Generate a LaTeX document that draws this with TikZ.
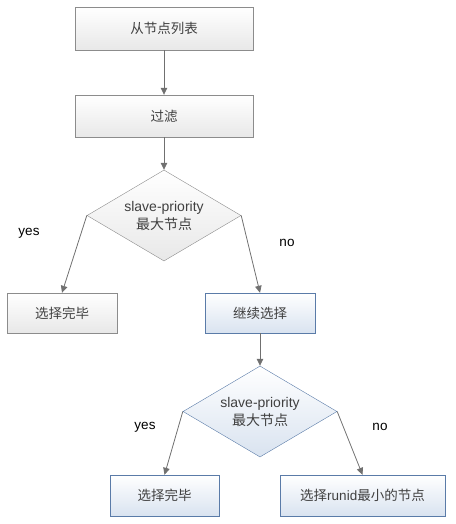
\documentclass[tikz,border=0pt]{standalone}
\usepackage{fontspec}
\setmainfont{Liberation Sans}
\newfontfamily\cjk{Noto Sans CJK SC}
\usetikzlibrary{shapes.geometric,arrows.meta,shadows}
\definecolor{boxline}{HTML}{8C8C8C}
\definecolor{blueline}{HTML}{5A7BA8}
\definecolor{bluefill}{HTML}{D9E3F0}
\definecolor{txt}{HTML}{404040}
\definecolor{arrowgray}{HTML}{707070}
\tikzset{
  graybox/.style={rectangle, draw=boxline, top color=white, bottom color=gray!18,
    text=txt, font=\fontsize{13.5}{16}\selectfont, inner sep=0pt,
    drop shadow={opacity=0.15, shadow xshift=1pt, shadow yshift=-1pt}},
  bluebox/.style={graybox, draw=blueline, bottom color=bluefill},
  graydiam/.style={diamond, draw=boxline, top color=white, bottom color=gray!18,
    text=txt, font=\fontsize{14}{18}\selectfont, align=center, inner sep=0pt,
    aspect=1.7, minimum width=154pt, minimum height=91pt},
  bluediam/.style={graydiam, draw=blueline, bottom color=bluefill},
  arr/.style={draw=arrowgray, line width=0.8pt, -{Triangle[length=7pt,width=6.5pt]}},
  lbl/.style={font=\fontsize{13.5}{16}\selectfont, text=black}
}
\begin{document}
\begin{tikzpicture}[x=1pt,y=-1pt]
    \useasboundingbox (0,0) rectangle (455,524);
    \node[graybox, minimum width=178pt, minimum height=43pt] (list) at (164,28.5) {\cjk 从节点列表};
    \node[graybox, minimum width=178pt, minimum height=42pt] (filter) at (164,116) {\cjk 过滤};
    \node[graydiam] (prio) at (164,215.5) {slave-priority\\{\cjk 最大节点}};
    \node[graybox, minimum width=110pt, minimum height=40pt] (done) at (62,313) {\cjk 选择完毕};
    \node[bluebox, minimum width=110pt, minimum height=40pt] (cont) at (260,313) {\cjk 继续选择};
    \node[bluediam] (prioB) at (260,411.5) {slave-priority\\{\cjk 最大节点}};
    \node[bluebox, minimum width=109pt, minimum height=41pt] (doneB) at (164.5,495.5) {\cjk 选择完毕};
    \node[bluebox, minimum width=165pt, minimum height=41pt] (runid) at (362.5,495.5) {{\cjk 选择}runid{\cjk 最小的节点}};
    \node[lbl] (yesA) at (29,233) {yes};
    \node[lbl] (noA) at (287,243) {no};
    \node[lbl] (yesB) at (145,427) {yes};
    \node[lbl] (noB) at (380,427) {no};
    \draw[arr] (list) -- (filter);
    \draw[arr] (filter) -- (prio);
    \draw[arr] (prio.west) -- (done.north);
    \draw[arr] (prio.east) -- (cont.north);
    \draw[arr] (cont) -- (prioB);
    \draw[arr] (prioB.west) -- (doneB.north);
    \draw[arr] (prioB.east) -- (runid.north);
\end{tikzpicture}
\end{document}
